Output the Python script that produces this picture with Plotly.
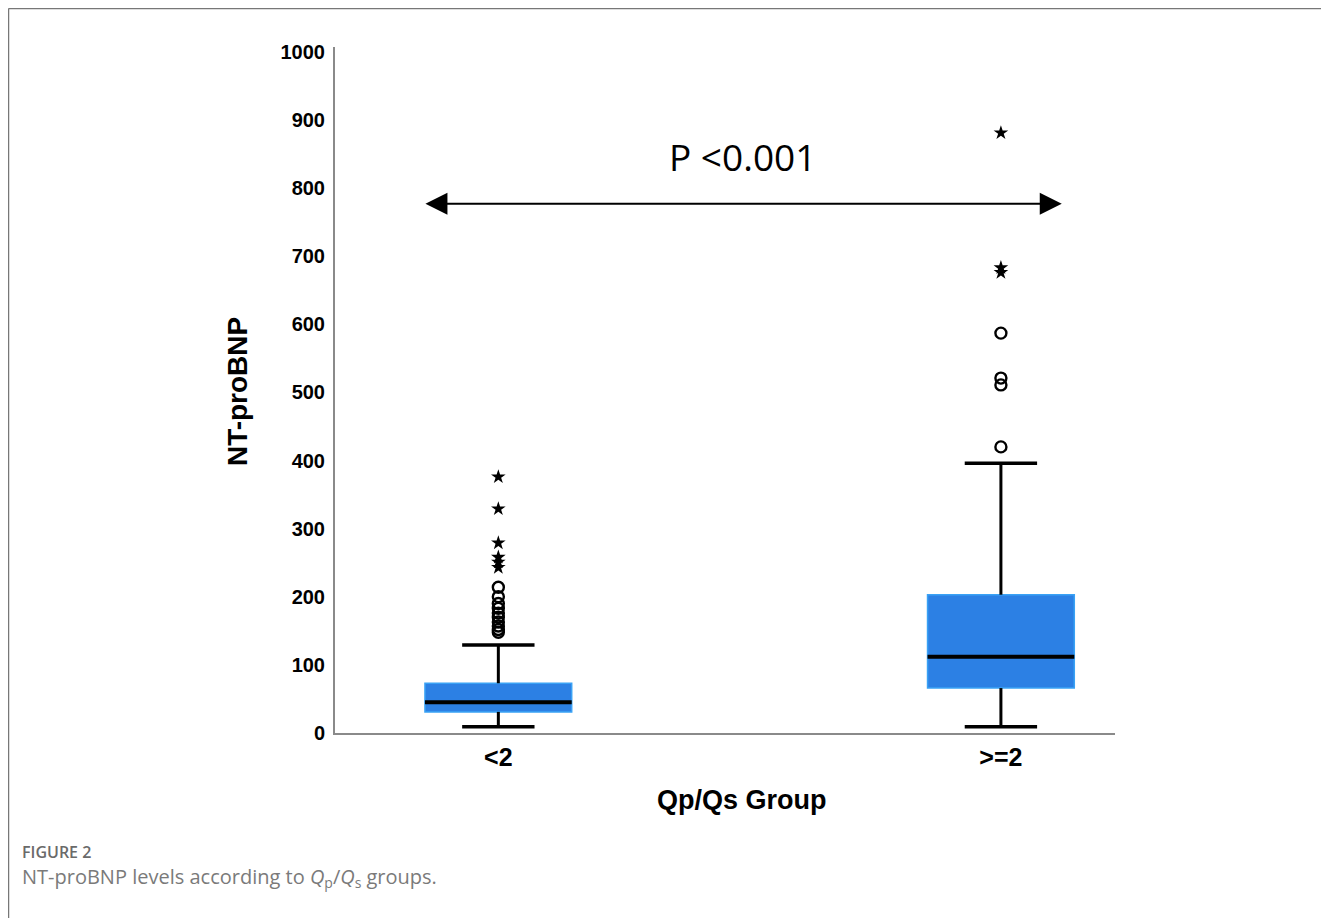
import plotly.graph_objects as go

# ---- data ----
categories = ["<2", ">=2"]
lower_whisker = [9, 9]
q1 = [31, 66]
median = [45, 112]
q3 = [73, 203]
upper_whisker = [129, 396]
outliers_circle = [
    [214, 200, 190, 183, 176, 170, 163, 157, 152, 148],
    [587, 521, 511, 420],
]
outliers_star = [
    [376, 329, 279, 258, 251, 243],
    [881, 683, 676],
]
p_label = "P <0.001"
y_ticks = list(range(0, 1001, 100))

xpos = list(range(len(categories)))
BOX_W = 0.292
CAP_HALF = 0.072
FILL = "#2c80e4"
EDGE = "#3aa2f5"

fig = go.Figure()

# box bodies
fig.add_trace(go.Bar(
    x=xpos, base=q1, y=[b - a for a, b in zip(q1, q3)], width=BOX_W,
    marker=dict(color=FILL, line=dict(color=EDGE, width=1.5)),
    hoverinfo="skip", showlegend=False))

for i in xpos:
    # whiskers
    fig.add_trace(go.Scatter(
        x=[i, i, None, i, i], y=[lower_whisker[i], q1[i], None, q3[i], upper_whisker[i]],
        mode="lines", line=dict(color="black", width=3), showlegend=False, hoverinfo="skip"))
    # caps
    fig.add_trace(go.Scatter(
        x=[i - CAP_HALF, i + CAP_HALF, None, i - CAP_HALF, i + CAP_HALF],
        y=[lower_whisker[i], lower_whisker[i], None, upper_whisker[i], upper_whisker[i]],
        mode="lines", line=dict(color="black", width=3.5), showlegend=False, hoverinfo="skip"))
    # median
    fig.add_trace(go.Scatter(
        x=[i - BOX_W / 2, i + BOX_W / 2], y=[median[i], median[i]],
        mode="lines", line=dict(color="black", width=4), showlegend=False, hoverinfo="skip"))
    # outliers
    fig.add_trace(go.Scatter(
        x=[i] * len(outliers_circle[i]), y=outliers_circle[i], mode="markers",
        marker=dict(symbol="circle-open", size=11, color="black", line=dict(width=2.4)),
        showlegend=False))
    fig.add_trace(go.Scatter(
        x=[i] * len(outliers_star[i]), y=outliers_star[i], mode="markers",
        marker=dict(symbol="star", size=11, color="black"),
        showlegend=False))

AXIS_COLOR = "#8a8a8a"
fig.update_xaxes(
    range=[-0.325, 1.227], tickmode="array", tickvals=xpos, ticktext=categories,
    showgrid=False, zeroline=False, showline=True, linecolor=AXIS_COLOR, linewidth=2,
    ticks="", tickfont=dict(family="Liberation Sans", size=25, color="black", weight="bold"),
    ticklabelstandoff=1)
fig.update_yaxes(
    range=[0, 1007], tickmode="array", tickvals=y_ticks,
    showgrid=False, zeroline=False, showline=True, linecolor=AXIS_COLOR, linewidth=2,
    ticks="", tickfont=dict(family="Liberation Sans", size=20, color="black", weight="bold"),
    ticklabelstandoff=4)

annotations = [
    dict(text="<b>NT-proBNP</b>", xref="paper", yref="paper", x=-0.1256, y=0.497,
         textangle=-90, showarrow=False, font=dict(family="Liberation Sans", size=28, color="black"),
         xanchor="center", yanchor="middle"),
    dict(text="<b>Qp/Qs Group</b>", xref="paper", yref="paper", x=0.522, y=-0.098,
         showarrow=False, font=dict(family="Liberation Sans", size=27, color="black"),
         xanchor="center", yanchor="middle"),
    dict(text=p_label, xref="x", yref="y", x=0.4855, y=846, showarrow=False,
         font=dict(family="Open Sans", size=37, color="black"), xanchor="center", yanchor="middle"),
    # double-headed arrow
    dict(x=1.121, y=777, ax=-0.148, ay=777, xref="x", yref="y", axref="x", ayref="y",
         text="", showarrow=True, arrowhead=2, arrowside="end+start", arrowsize=2.2,
         arrowwidth=2, arrowcolor="black"),
    dict(text="FIGURE 2", xref="paper", yref="paper", x=-0.4038, y=-0.1735,
         showarrow=False, font=dict(family="Open Sans", size=16, color="#6a6a6a", weight=600),
         xanchor="left", yanchor="middle"),
    dict(text="NT-proBNP levels according to <i>Q</i><sub>p</sub>/<i>Q</i><sub>s</sub> groups.",
         xref="paper", yref="paper", x=-0.4038, y=-0.211,
         showarrow=False, font=dict(family="Open Sans", size=20, color="#7a7a7a"),
         xanchor="left", yanchor="middle"),
]

# frame (figure is placed 8px into the page by the body margin)
plot_h = 918 - 39 - 193
plot_w = 1329 - 327 - 222
fx0 = (0.5 - 327) / plot_w
fy_top = 1 + (39 - 0.5) / plot_h
fy_bot = -(193) / plot_h - 0.02
fx1 = 1 + 222 / plot_w
shapes = [
    dict(type="line", xref="paper", yref="paper", x0=fx0, x1=fx1, y0=fy_top, y1=fy_top,
         line=dict(color="#777777", width=1.5)),
    dict(type="line", xref="paper", yref="paper", x0=fx0, x1=fx0, y0=fy_top, y1=fy_bot,
         line=dict(color="#777777", width=1.5)),
]

fig.update_layout(
    width=1329, height=918,
    margin=dict(l=327, r=222, t=39, b=193),
    paper_bgcolor="white", plot_bgcolor="white",
    annotations=annotations, shapes=shapes, showlegend=False,
)

fig.write_html("out.html")
